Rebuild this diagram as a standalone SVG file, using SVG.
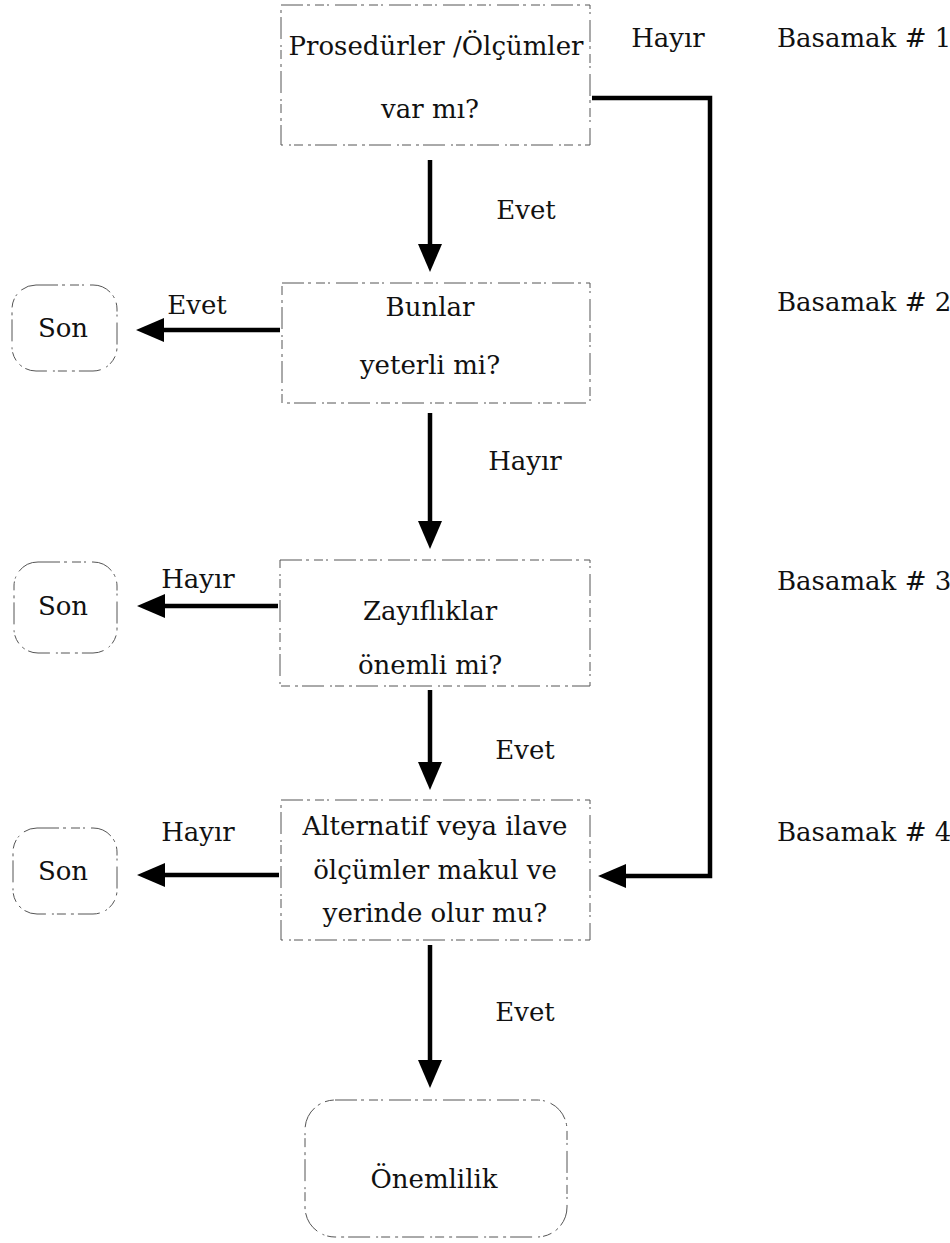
<svg xmlns="http://www.w3.org/2000/svg" width="950" height="1243" viewBox="0 0 950 1243">
  <style>
    text { font-family: "DejaVu Serif", "Liberation Serif", serif; font-size: 26px; fill: #111; }
    .c { text-anchor: middle; }
    .box { fill: none; stroke: #555; stroke-width: 1; stroke-dasharray: 22 4 3 5 9 3 2 6; }
    .flow { fill: none; stroke: #000; stroke-width: 4.5; }
  </style>
  <defs>
    <marker id="head" markerUnits="userSpaceOnUse" viewBox="0 0 28 24" refX="8" refY="12" markerWidth="28" markerHeight="24" orient="auto">
      <path d="M0,0 L28,12 L0,24 Z" fill="#000"/>
    </marker>
  </defs>

  <rect width="950" height="1243" fill="#fff"/>

  <!-- decision boxes -->
  <g id="step1">
    <rect class="box" x="281" y="5" width="309" height="140"/>
    <text class="c" x="436" y="55">Prosedürler /Ölçümler</text>
    <text class="c" x="430" y="118">var mı?</text>
  </g>
  <g id="step2">
    <rect class="box" x="282" y="283" width="308" height="120"/>
    <text class="c" x="430" y="316">Bunlar</text>
    <text class="c" x="430" y="374">yeterli mi?</text>
  </g>
  <g id="step3">
    <rect class="box" x="280" y="560" width="310" height="126"/>
    <text class="c" x="430" y="620">Zayıflıklar</text>
    <text class="c" x="430" y="674">önemli mi?</text>
  </g>
  <g id="step4">
    <rect class="box" x="281" y="800" width="309" height="140"/>
    <text class="c" x="435" y="835">Alternatif veya ilave</text>
    <text class="c" x="435" y="879">ölçümler makul ve</text>
    <text class="c" x="435" y="922">yerinde olur mu?</text>
  </g>

  <!-- terminal boxes -->
  <g id="end1">
    <rect class="box" x="12" y="285" width="105" height="86" rx="24"/>
    <text class="c" x="63" y="337">Son</text>
  </g>
  <g id="end2">
    <rect class="box" x="14" y="562" width="103" height="91" rx="24"/>
    <text class="c" x="63" y="615">Son</text>
  </g>
  <g id="end3">
    <rect class="box" x="13" y="828" width="104" height="86" rx="24"/>
    <text class="c" x="63" y="880">Son</text>
  </g>
  <g id="result">
    <rect class="box" x="305" y="1100" width="262" height="137" rx="30"/>
    <text class="c" x="434" y="1188">Önemlilik</text>
  </g>

  <!-- connectors -->
  <g id="connectors">
    <path class="flow" d="M430,160 V252" marker-end="url(#head)"/>
    <path class="flow" d="M430,413 V529" marker-end="url(#head)"/>
    <path class="flow" d="M430,690 V770" marker-end="url(#head)"/>
    <path class="flow" d="M430,945 V1068" marker-end="url(#head)"/>
    <path class="flow" d="M280,330 H156" marker-end="url(#head)"/>
    <path class="flow" d="M278,606 H157" marker-end="url(#head)"/>
    <path class="flow" d="M279,875 H157" marker-end="url(#head)"/>
    <path class="flow" d="M592,98 H710 V876 H618" marker-end="url(#head)"/>
  </g>

  <!-- branch labels -->
  <g id="labels">
    <text x="668" y="47" class="c">Hayır</text>
    <text x="526" y="219" class="c">Evet</text>
    <text x="197" y="314" class="c">Evet</text>
    <text x="525" y="470" class="c">Hayır</text>
    <text x="198" y="588" class="c">Hayır</text>
    <text x="525" y="759" class="c">Evet</text>
    <text x="198" y="841" class="c">Hayır</text>
    <text x="525" y="1021" class="c">Evet</text>
  </g>

  <!-- step column -->
  <g id="steps">
    <text x="777" y="47">Basamak # 1</text>
    <text x="777" y="311">Basamak # 2</text>
    <text x="777" y="590">Basamak # 3</text>
    <text x="777" y="841">Basamak # 4</text>
  </g>
</svg>
